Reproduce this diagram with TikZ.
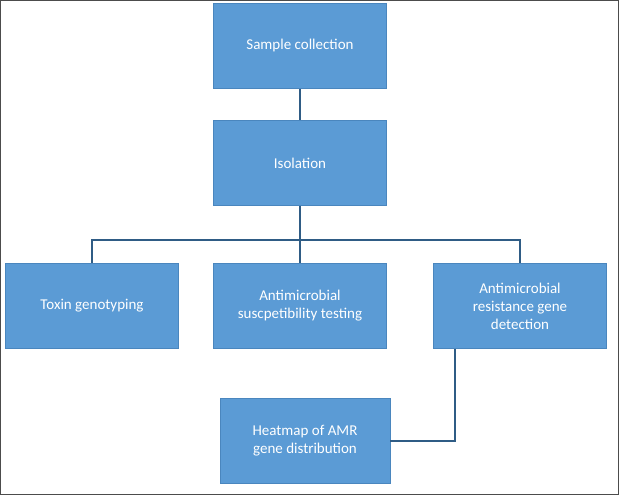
\documentclass[tikz,border=0pt]{standalone}
\usepackage{fontspec}
\setmainfont{Carlito}
\begin{document}
\begin{tikzpicture}[x=1pt,y=-1pt,
  box/.style={draw=boxedge,fill=boxfill,text=white,minimum width=173pt,minimum height=85pt,align=center,font=\fontsize{15}{18}\selectfont,line width=0.8pt},
  conn/.style={draw=lineblue,line width=1.6pt}]
\definecolor{boxfill}{HTML}{5B9BD5}
\definecolor{boxedge}{HTML}{4A86BE}
\definecolor{lineblue}{HTML}{2F5C85}
\useasboundingbox (0,0) rectangle (619,495);
\draw[black!70,line width=1pt] (0.5,0.5) rectangle (618.5,494.5);
\node[box] (sc) at (300,46) {Sample collection};
\node[box] (iso) at (300,163) {Isolation};
\node[box] (tox) at (92,306) {Toxin genotyping};
\node[box] (ast) at (300,306) {Antimicrobial\\suscpetibility testing};
\node[box] (amr) at (520,306) {Antimicrobial\\resistance gene\\detection};
\node[box,minimum width=170pt] (hm) at (305,441) {Heatmap of AMR\\gene distribution};
\coordinate (j) at (300,240);
\draw[conn] (sc) -- (iso);
\draw[conn] (iso) -- (j);
\draw[conn] (tox.north) |- (j) -| (amr.north);
\draw[conn] (j) -- (ast);
\draw[conn] ([xshift=-65pt]amr.south) |- (hm.east);
\end{tikzpicture}
\end{document}
